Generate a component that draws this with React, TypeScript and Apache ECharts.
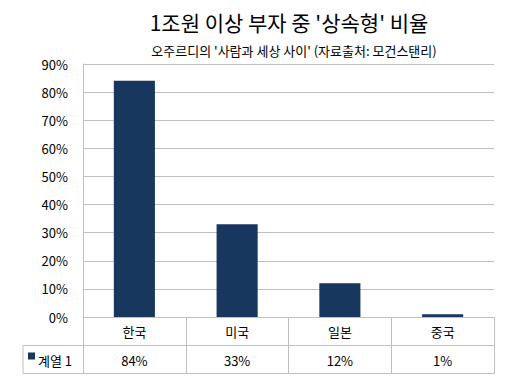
import React, { useEffect, useRef } from "react";
import * as echarts from "echarts";

const titleText = "1조원 이상 부자 중 '상속형' 비율";
const subtitleText = "오주르디의 '사람과 세상 사이' (자료출처: 모건스탠리)";
const categories = ["한국", "미국", "일본", "중국"];
const seriesName = "계열 1";
const values = [84, 33, 12, 1];
const yMin = 0;
const yMax = 90;
const yInterval = 10;

const FONT = "'Noto Sans CJK KR', 'Noto Sans', sans-serif";
const BAR = "#17375e";
const GRID = "#bfbfbf";

export default function App() {
  const ref = useRef<HTMLDivElement>(null);
  useEffect(() => {
    document.body.style.margin = "0";
    const chart = echarts.init(ref.current!, undefined, { renderer: "svg" });
    const gridL = 83, gridR = 15, gridT = 64, gridB = 64;
    const W = 509, H = 381;
    const axisY = H - gridB;
    const row1 = axisY + 28.5;
    const row2 = axisY + 56.5;
    const rightX = W - gridR;
    const tableL = 23;
    const lineStyle = { stroke: GRID, lineWidth: 1 };
    chart.setOption({
      animation: false,
      textStyle: { fontFamily: FONT },
      title: [
        {
          text: titleText,
          left: 284,
          top: 6,
          textAlign: "center",
          textStyle: { fontFamily: FONT, fontSize: 21, fontWeight: "normal", color: "#000" },
        },
        {
          text: subtitleText,
          left: 289,
          top: 39,
          textAlign: "center",
          textStyle: { fontFamily: FONT, fontSize: 13, fontWeight: "normal", color: "#000" },
        },
      ],
      grid: { left: gridL, right: gridR, top: gridT, bottom: gridB, containLabel: false },
      xAxis: [
        {
          type: "category",
          data: categories,
          position: "bottom",
          axisLine: { show: true, lineStyle: { color: GRID } },
          axisTick: { show: true, length: 56.5, lineStyle: { color: GRID } },
          axisLabel: { fontFamily: FONT, fontSize: 13, color: "#000", margin: 8 },
          splitLine: { show: false },
        },
        {
          type: "category",
          data: categories,
          position: "bottom",
          offset: 28.5,
          axisLine: { show: false },
          axisTick: { show: false },
          axisLabel: {
            fontFamily: FONT,
            fontSize: 13,
            color: "#000",
            margin: 8,
            formatter: (_v: string, i: number) => values[i] + "%",
          },
          splitLine: { show: false },
        },
      ],
      yAxis: {
        type: "value",
        min: yMin,
        max: yMax,
        interval: yInterval,
        axisLine: { show: true, lineStyle: { color: GRID } },
        axisTick: { show: false },
        axisLabel: {
          fontFamily: FONT,
          fontSize: 13,
          color: "#000",
          margin: 15,
          formatter: (v: number) => v + "%",
        },
        splitLine: { show: true, lineStyle: { color: GRID } },
      },
      series: [
        {
          name: seriesName,
          type: "bar",
          data: values,
          barWidth: "40%",
          itemStyle: { color: BAR },
        },
      ],
      graphic: [
        { type: "line", shape: { x1: tableL, y1: row1, x2: rightX, y2: row1 }, style: lineStyle },
        { type: "line", shape: { x1: tableL, y1: row2, x2: rightX, y2: row2 }, style: lineStyle },
        { type: "line", shape: { x1: tableL, y1: row1, x2: tableL, y2: row2 }, style: lineStyle },
        { type: "rect", shape: { x: 28, y: 352.5, width: 7, height: 7 }, style: { fill: BAR } },
        {
          type: "text",
          x: 38,
          y: (row1 + row2) / 2 + 1,
          style: {
            text: seriesName,
            fontFamily: FONT,
            fontSize: 13,
            fill: "#000",
            verticalAlign: "middle",
          },
        },
      ],
    });
    return () => chart.dispose();
  }, []);
  return <div ref={ref} style={{ width: 509, height: 381 }} />;
}
